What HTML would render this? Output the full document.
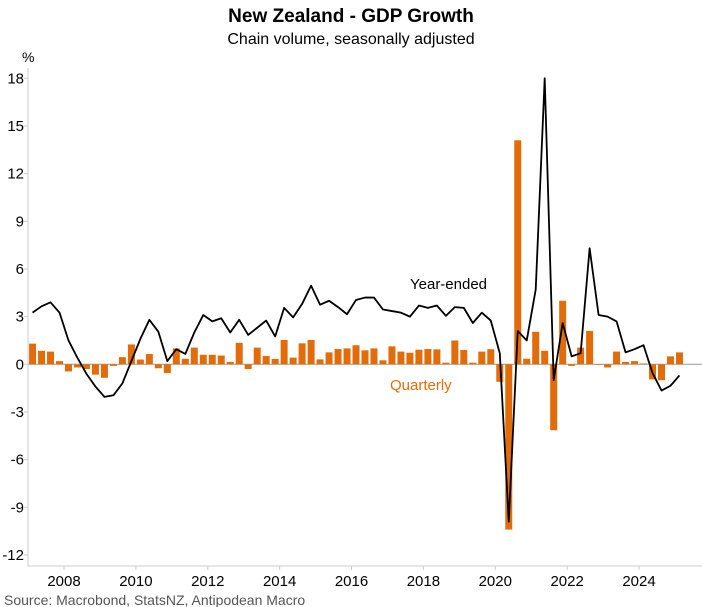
<!DOCTYPE html>
<html><head><meta charset="utf-8"><style>
body{margin:0;background:#fff;width:702px;height:607px;overflow:hidden;font-family:"Liberation Sans",Arial,sans-serif}
svg{display:block}
</style></head><body>
<svg id="c" width="702" height="607">
<text x="351" y="22" text-anchor="middle" font-size="19" font-weight="bold" fill="#000">New Zealand - GDP Growth</text>
<text x="351" y="44" text-anchor="middle" font-size="16" fill="#000">Chain volume, seasonally adjusted</text>
<text x="22" y="62" font-size="14" fill="#000">%</text>
<g id="grid"></g><g id="bars"></g><g id="line"></g><g id="axes"></g>
<text x="410" y="289" font-size="15" fill="#000">Year-ended</text>
<text x="390" y="390" font-size="15" fill="#e36c0a">Quarterly</text>
<text x="4" y="605" font-size="14" fill="#555">Source: Macrobond, StatsNZ, Antipodean Macro</text>
</svg>
<script>
const startYear = 2007;
const quarterly = [1.3,0.85,0.8,0.2, -0.45,-0.2,-0.3,-0.65, -0.85,-0.1,0.45,1.25, 0.3,0.65,-0.25,-0.55, 1.0,0.35,1.05,0.6, 0.6,0.55,0.15,1.35, -0.3,1.05,0.52,0.34, 1.53,0.42,1.32,1.53, 0.31,0.75,0.96,1.0, 1.2,0.88,1.0,0.25, 1.13,0.8,0.73,0.92, 0.96,0.94,0.1,1.5, 0.9,0.1,0.8,0.95, -1.1,-10.4,14.1,0.35, 2.05,0.85,-4.15,4.0, -0.1,1.05,2.1,0.0, -0.2,0.8,0.15,0.2, 0.05,-0.95,-1.0,0.5, 0.75];
const yearEnded = [3.25,3.65,3.9,3.25, 1.5,0.4,-0.6,-1.4, -2.05,-1.95,-1.2,0.2, 1.6,2.8,2.05,0.2, 0.95,0.65,2.0,3.1, 2.7,2.9,2.0,2.8, 1.85,2.3,2.75,1.75, 3.55,2.95,3.8,4.95, 3.75,4.0,3.6,3.15, 4.05,4.2,4.2,3.45, 3.35,3.25,3.0,3.7, 3.55,3.7,3.05,3.6, 3.55,2.6,3.25,2.75, 0.7,-9.9,2.1,1.5, 4.7,18.0,-1.0,2.6, 0.5,0.7,7.3,3.1, 3.0,2.7,0.75,0.95, 1.2,-0.55,-1.65,-1.35, -0.7];
const yTicks = [-12,-9,-6,-3,0,3,6,9,12,15,18];
const xTickYears = [2008,2010,2012,2014,2016,2018,2020,2022,2024];

const NS="http://www.w3.org/2000/svg";
const yr0=2008,px0=64,pxYear=35.94;
const X=t=>px0+(t-yr0)*pxYear;
const Y=v=>364.3-v*15.89;
const qx=i=>X(startYear+i/4+0.125);
function mk(tag,attrs,parent){const e=document.createElementNS(NS,tag);for(const k in attrs)e.setAttribute(k,attrs[k]);document.getElementById(parent).appendChild(e);return e;}
let a=mk('line',{x1:28,y1:68,x2:28,y2:566,stroke:'#ccc','stroke-width':1},'axes');


a=mk('line',{x1:28,y1:566,x2:702,y2:566,stroke:'#ccc','stroke-width':1},'axes');


a=mk('line',{x1:28,y1:Y(0),x2:702,y2:Y(0),stroke:'#999','stroke-width':1},'grid');


yTicks.forEach(v=>{
  const t=mk('text',{x:24,y:Y(v)+5,'text-anchor':'end','font-size':15,fill:'#000'},'axes');t.textContent=v;
  
  
  mk('line',{x1:24,x2:28,y1:Y(v),y2:Y(v),stroke:'#ccc'},'axes');
});
xTickYears.forEach(y=>{
  const x=X(y);
  const tk=mk('line',{x1:x,x2:x,y1:566,y2:570,stroke:'#ccc'},'axes');
  
  
  const t=mk('text',{x:x,y:586,'text-anchor':'middle','font-size':15,fill:'#000'},'axes');t.textContent=y;
  
  
});
quarterly.forEach((v,i)=>{
  const x=qx(i),y0=Y(0),y1=Y(v);
  const r=mk('rect',{x:x-3.5,y:Math.min(y0,y1),width:7,height:Math.max(0.5,Math.abs(y1-y0)),fill:'#e36c0a'},'bars');
  
  
});
const p=mk('polyline',{points:yearEnded.map((v,i)=>qx(i)+','+Y(v)).join(' '),fill:'none',stroke:'#000','stroke-width':1.8,'stroke-linejoin':'round'},'line');


</script>
</body></html>
